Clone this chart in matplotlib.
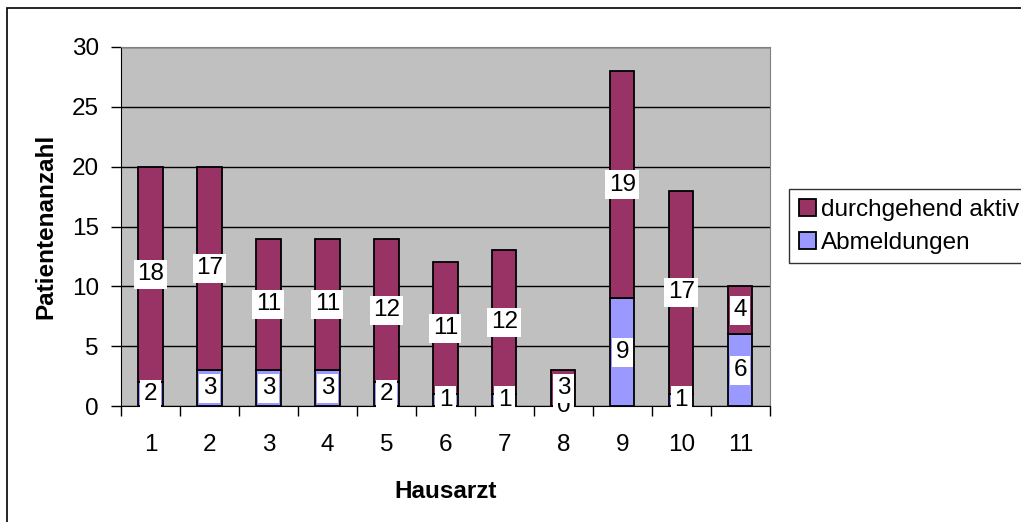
import matplotlib.pyplot as plt
from matplotlib.patches import Rectangle
import numpy as np

plt.rcParams['font.family'] = ['Liberation Sans', 'DejaVu Sans']

# ==============================
# Data
# ==============================

hausarzt = ["1", "2", "3", "4", "5", "6", "7", "8", "9", "10", "11"]
abmeldungen = [2, 3, 3, 3, 2, 1, 1, 0, 9, 1, 6]
aktiv = [18, 17, 11, 11, 12, 11, 12, 3, 19, 17, 4]

FS = 17.5

# ==============================
# Plot
# ==============================

fig = plt.figure(figsize=(10.21, 5.22), dpi=100)
ax = fig.add_axes([0.1185, 0.222, 0.6355, 0.688])

x = np.arange(1, len(hausarzt) + 1)
w = 0.41

ax.set_facecolor("#C0C0C0")
ax.bar(x, abmeldungen, w, color="#9999FF", edgecolor="black", linewidth=1.3,
       label="Abmeldungen", zorder=3)
ax.bar(x, aktiv, w, bottom=abmeldungen, color="#993366", edgecolor="black",
       linewidth=1.3, label="durchgehend aktiv", zorder=3)

box = dict(facecolor="white", edgecolor="none", pad=2.5)
for xi, a in zip(x, abmeldungen):
    ax.text(xi, a / 2, str(a), ha="center", va="center", fontsize=FS,
            bbox=box, zorder=4, clip_on=False)
for xi, a, b in zip(x, abmeldungen, aktiv):
    ax.text(xi, a + b / 2, str(b), ha="center", va="center", fontsize=FS,
            bbox=box, zorder=5, clip_on=False)

ax.set_ylim(0, 30)
ax.set_xlim(0.5, len(hausarzt) + 0.5)
ax.set_yticks(range(0, 31, 5))
ax.yaxis.grid(True, color="black", linewidth=1, zorder=1)
ax.set_axisbelow(True)

ax.set_xticks(x)
ax.set_xticklabels(hausarzt)
ax.set_xticks(np.arange(0.5, len(hausarzt) + 1, 1), minor=True)
ax.tick_params(axis="x", which="major", length=0, pad=20, labelsize=FS)
ax.tick_params(axis="x", which="minor", length=7, width=1)
ax.tick_params(axis="y", length=7, width=1, labelsize=FS, pad=9)

for s in ["top", "right"]:
    ax.spines[s].set_color("#808080")
ax.spines["left"].set_color("black")
ax.spines["bottom"].set_color("black")

ax.set_xlabel("Hausarzt", fontsize=FS, fontweight="bold", labelpad=17)
ax.set_ylabel("Patientenanzahl", fontsize=FS, fontweight="bold", labelpad=10)

handles, labels = ax.get_legend_handles_labels()
leg = fig.legend(handles[::-1], labels[::-1], loc="upper left",
                 bbox_to_anchor=(789 / 1021, 1 - 189 / 522), fontsize=FS,
                 frameon=True, fancybox=False, borderaxespad=0,
                 handlelength=0.7, handleheight=0.7, handletextpad=0.2,
                 labelspacing=0.45, borderpad=0.4)
leg.get_frame().set_edgecolor("black")
leg.get_frame().set_linewidth(1)

fig.patches.append(Rectangle((7 / 1021, -0.05), 1.2, 1 - 8 / 522 + 0.05,
                             transform=fig.transFigure, fill=False,
                             edgecolor="black", linewidth=1.2))

fig.savefig("out.png", dpi=100)
